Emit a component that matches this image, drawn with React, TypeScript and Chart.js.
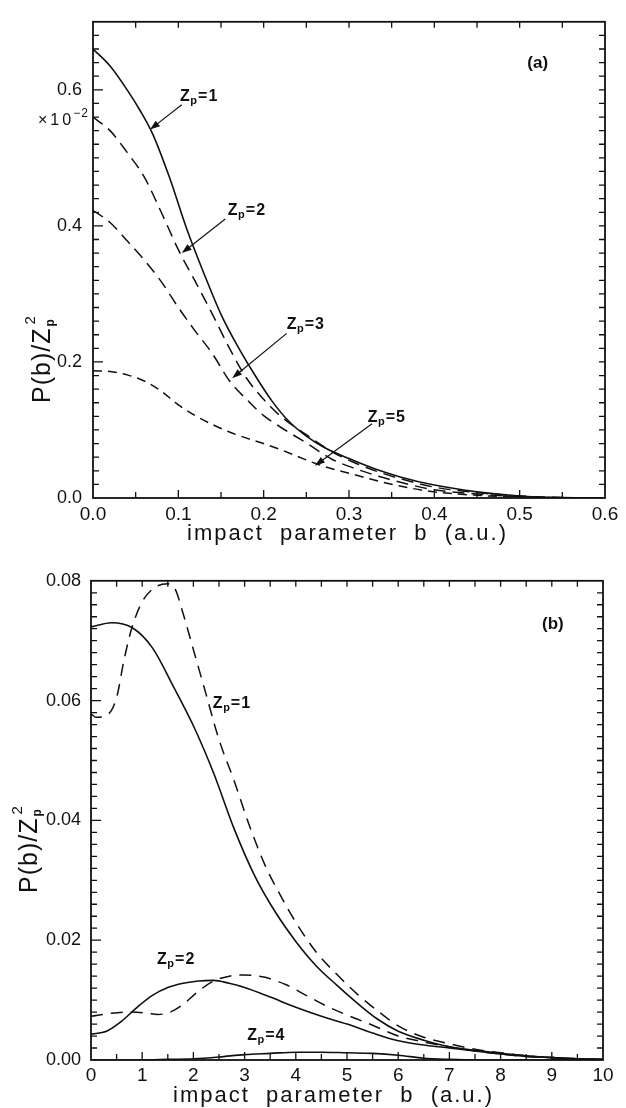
import React, { useEffect, useRef } from 'react';
import { Chart, registerables } from 'chart.js';

Chart.register(...registerables);

const FONT = '"Liberation Sans", Arial, Helvetica, sans-serif';

// ---------------- Panel (a): P(b)/Zp^2 (x10^-2) vs b (0 .. 0.6 a.u.) ----------------
const A_ZP1: number[][] = [[0,0.66],[0.02,0.635],[0.04,0.60],[0.055,0.57],[0.07,0.535],[0.09,0.47],[0.11,0.395],[0.13,0.33],[0.15,0.27],[0.17,0.222],[0.19,0.18],[0.21,0.142],[0.23,0.112],[0.25,0.091],[0.27,0.075],[0.3,0.058],[0.33,0.043],[0.36,0.031],[0.4,0.019],[0.45,0.009],[0.5,0.003],[0.55,0.0006],[0.6,0]];
const A_ZP2: number[][] = [[0,0.56],[0.02,0.54],[0.04,0.508],[0.06,0.472],[0.08,0.42],[0.1,0.365],[0.12,0.318],[0.14,0.27],[0.16,0.22],[0.18,0.176],[0.2,0.145],[0.22,0.12],[0.25,0.093],[0.28,0.068],[0.31,0.05],[0.34,0.036],[0.37,0.025],[0.4,0.016],[0.45,0.008],[0.5,0.003],[0.55,0.0006],[0.6,0]];
const A_ZP3: number[][] = [[0,0.423],[0.02,0.405],[0.04,0.378],[0.06,0.35],[0.08,0.318],[0.1,0.28],[0.12,0.245],[0.14,0.212],[0.16,0.172],[0.18,0.145],[0.2,0.121],[0.22,0.104],[0.25,0.081],[0.28,0.057],[0.31,0.042],[0.34,0.03],[0.37,0.02],[0.4,0.012],[0.45,0.006],[0.5,0.002],[0.55,0.0004],[0.6,0]];
const A_ZP5: number[][] = [[0,0.187],[0.02,0.186],[0.04,0.181],[0.06,0.172],[0.08,0.157],[0.1,0.137],[0.12,0.121],[0.14,0.108],[0.16,0.097],[0.18,0.088],[0.2,0.08],[0.22,0.071],[0.24,0.061],[0.26,0.051],[0.28,0.043],[0.31,0.033],[0.34,0.023],[0.37,0.015],[0.4,0.009],[0.45,0.004],[0.5,0.0012],[0.55,0.0002],[0.6,0]];

// ---------------- Panel (b): P(b)/Zp^2 vs b (0 .. 10 a.u.) ----------------
const B_ZP1_SOLID: number[][] = [[0,0.0723],[0.4,0.073],[0.8,0.0722],[1.2,0.0688],[1.6,0.0625],[2.0,0.0558],[2.4,0.0478],[2.8,0.0385],[3.2,0.0307],[3.6,0.0247],[4.0,0.0198],[4.4,0.0157],[4.8,0.0125],[5.2,0.0095],[5.6,0.0068],[6.0,0.0048],[6.5,0.0033],[7.0,0.0022],[7.5,0.0016],[8.0,0.0011],[8.5,0.0007],[9.0,0.0004],[9.5,0.0002],[10,0.0001]];
const B_ZP1_DASH: number[][] = [[0,0.0578],[0.1,0.0572],[0.3,0.0575],[0.5,0.0605],[0.65,0.067],[0.8,0.0722],[1.0,0.0765],[1.25,0.0789],[1.5,0.0795],[1.65,0.0785],[1.8,0.0745],[2.0,0.0685],[2.2,0.0625],[2.5,0.0535],[2.8,0.0465],[3.1,0.039],[3.4,0.0325],[3.7,0.0275],[4.0,0.023],[4.4,0.018],[4.8,0.0143],[5.2,0.011],[5.6,0.0082],[6.0,0.0057],[6.5,0.0038],[7.0,0.0027],[7.5,0.0018],[8.0,0.0012],[8.5,0.0007],[9.0,0.0004],[9.5,0.0002],[10,0.0001]];
const B_ZP2_SOLID: number[][] = [[0,0.0043],[0.3,0.0048],[0.6,0.0065],[0.9,0.0088],[1.2,0.0108],[1.5,0.0121],[1.8,0.0128],[2.1,0.0132],[2.4,0.0133],[2.7,0.0128],[3.0,0.0121],[3.5,0.0105],[4.0,0.0088],[4.5,0.0073],[5.0,0.006],[5.5,0.0045],[6.0,0.0032],[6.5,0.0025],[7.0,0.002],[7.5,0.0015],[8.0,0.001],[8.5,0.0006],[9.0,0.0004],[9.5,0.0002],[10,0.0001]];
const B_ZP2_DASH: number[][] = [[0,0.0073],[0.4,0.0078],[0.8,0.008],[1.1,0.0078],[1.3,0.0076],[1.55,0.008],[1.8,0.0093],[2.1,0.0115],[2.4,0.0132],[2.7,0.014],[3.0,0.0142],[3.4,0.0138],[3.8,0.0126],[4.2,0.0108],[4.6,0.009],[5.0,0.0075],[5.5,0.0058],[6.0,0.004],[6.5,0.003],[7.0,0.0022],[7.5,0.0015],[8.0,0.001],[8.5,0.0006],[9.0,0.0004],[9.5,0.0002],[10,0.0001]];
const B_ZP4_SOLID: number[][] = [[0,0],[1,0],[1.5,0.0001],[2,0.0002],[2.5,0.0005],[3,0.0009],[3.5,0.0011],[4,0.0013],[4.5,0.0013],[5,0.0012],[5.5,0.0011],[6,0.0008],[6.5,0.0003],[7,0.0001],[7.5,0],[10,0]];

// axis ranges / tick steps
const A_X_RANGE = [0, 0.6]; const A_X_STEP = 0.05; const A_X_MAJOR = 0.1;
const A_Y_RANGE = [0, 0.7]; const A_Y_STEP = 0.02; const A_Y_MAJOR = 0.2;
const B_X_RANGE = [0, 10]; const B_X_STEP = 0.5; const B_X_MAJOR = 1;
const B_Y_RANGE = [0, 0.08]; const B_Y_STEP = 0.002; const B_Y_MAJOR = 0.02;

// annotations (data coordinates): label value, text anchor, arrow start, arrow tip
const A_NOTES = [
  { n: '1', tx: 0.102, ty: 0.583, ax: 0.104, ay: 0.578, bx: 0.0668, by: 0.5416 },
  { n: '2', tx: 0.158, ty: 0.416, ax: 0.155, ay: 0.410, bx: 0.104, by: 0.360 },
  { n: '3', tx: 0.227, ty: 0.249, ax: 0.227, ay: 0.242, bx: 0.163, by: 0.176 },
  { n: '5', tx: 0.322, ty: 0.112, ax: 0.327, ay: 0.109, bx: 0.260, by: 0.0475 },
];
const B_NOTES = [
  { n: '1', tx: 2.38, ty: 0.0588 },
  { n: '2', tx: 1.29, ty: 0.016 },
  { n: '4', tx: 3.05, ty: 0.0033 },
];

const X_TITLE = 'impact parameter b (a.u.)';

function range(a: number, b: number, s: number): number[] {
  const out: number[] = [];
  const n = Math.round((b - a) / s);
  for (let i = 0; i <= n; i++) out.push(+(a + i * s).toFixed(6));
  return out;
}
function isMajor(v: number, m: number) {
  return Math.abs(v / m - Math.round(v / m)) < 1e-6;
}

function drawZp(ctx: CanvasRenderingContext2D, x: number, y: number, n: string) {
  ctx.textAlign = 'left';
  ctx.textBaseline = 'alphabetic';
  ctx.font = `bold 16px ${FONT}`;
  ctx.fillText('Z', x, y);
  let w = ctx.measureText('Z').width;
  ctx.font = `bold 11px ${FONT}`;
  ctx.fillText('p', x + w + 0.5, y + 3);
  w += ctx.measureText('p').width + 1.5;
  ctx.font = `bold 16px ${FONT}`;
  (ctx as any).letterSpacing = '1px';
  ctx.fillText('=' + n, x + w, y);
  (ctx as any).letterSpacing = '0px';
}

function drawArrow(ctx: CanvasRenderingContext2D, x1: number, y1: number, x2: number, y2: number) {
  const ang = Math.atan2(y2 - y1, x2 - x1);
  const L = 10, H = 3.5;
  ctx.lineWidth = 1.2;
  ctx.beginPath();
  ctx.moveTo(x1, y1);
  ctx.lineTo(x2 - Math.cos(ang) * L * 0.8, y2 - Math.sin(ang) * L * 0.8);
  ctx.stroke();
  ctx.beginPath();
  ctx.moveTo(x2, y2);
  ctx.lineTo(x2 - L * Math.cos(ang) + H * Math.sin(ang), y2 - L * Math.sin(ang) - H * Math.cos(ang));
  ctx.lineTo(x2 - L * Math.cos(ang) - H * Math.sin(ang), y2 - L * Math.sin(ang) + H * Math.cos(ang));
  ctx.closePath();
  ctx.fill();
}

function drawYTitle(ctx: CanvasRenderingContext2D, x: number, y: number) {
  ctx.save();
  ctx.translate(x, y);
  ctx.rotate(-Math.PI / 2);
  ctx.textAlign = 'left';
  ctx.textBaseline = 'alphabetic';
  ctx.font = `25px ${FONT}`;
  (ctx as any).letterSpacing = '1px';
  ctx.fillText('P(b)/Z', 0, 0);
  const w = ctx.measureText('P(b)/Z').width;
  (ctx as any).letterSpacing = '0px';
  ctx.font = `bold 12px ${FONT}`;
  ctx.fillText('p', w + 1, 4);
  ctx.font = `15px ${FONT}`;
  ctx.fillText('2', w + 3, -15);
  ctx.restore();
}

function drawXTitle(ctx: CanvasRenderingContext2D, x: number, y: number) {
  ctx.save();
  ctx.textAlign = 'left';
  ctx.textBaseline = 'alphabetic';
  ctx.font = `22px ${FONT}`;
  (ctx as any).letterSpacing = '2px';
  (ctx as any).wordSpacing = '8px';
  ctx.fillText(X_TITLE, x, y);
  ctx.restore();
}

type Series = { label: string; points: number[][]; dash: number[]; width: number };
type Spec = {
  id: string;
  series: Series[];
  xRange: number[]; xStep: number; xMajor: number; xDec: number;
  yRange: number[]; yStep: number; yMajor: number; yDec: number;
  padTop: number; padRight: number; yAxisWidth: number; xAxisHeight: number;
  xLabelPad: number; yLabelPad: number;
  decor: (ctx: CanvasRenderingContext2D, chart: any) => void;
};

function decorPlugin(s: Spec) {
  return {
    id: 'decor_' + s.id,
    afterDraw(chart: any) {
      const ctx: CanvasRenderingContext2D = chart.ctx;
      const { left, right, top, bottom } = chart.chartArea;
      const xs = chart.scales.x;
      const ys = chart.scales.y;
      ctx.save();
      ctx.strokeStyle = '#111';
      ctx.fillStyle = '#111';
      ctx.lineWidth = 1.8;
      ctx.strokeRect(left, top, right - left, bottom - top);
      ctx.lineWidth = 1.3;
      ctx.beginPath();
      for (const t of xs.ticks) {
        const v = t.value;
        if (v <= s.xRange[0] + 1e-9 || v >= s.xRange[1] - 1e-9) continue;
        const px = xs.getPixelForValue(v);
        const mj = isMajor(v, s.xMajor);
        ctx.moveTo(px, bottom); ctx.lineTo(px, bottom - (mj ? 8 : 6));
        ctx.moveTo(px, top); ctx.lineTo(px, top + 6);
      }
      for (const t of ys.ticks) {
        const v = t.value;
        if (v <= s.yRange[0] + 1e-9 || v >= s.yRange[1] - 1e-9) continue;
        const py = ys.getPixelForValue(v);
        const mj = isMajor(v, s.yMajor);
        ctx.moveTo(left, py); ctx.lineTo(left + (mj ? 10 : 6), py);
        ctx.moveTo(right, py); ctx.lineTo(right - 6, py);
      }
      ctx.stroke();
      s.decor(ctx, chart);
      ctx.restore();
    },
  };
}

function makeConfig(s: Spec): any {
  const xTicks = range(s.xRange[0], s.xRange[1], s.xStep);
  const yTicks = range(s.yRange[0], s.yRange[1], s.yStep);
  return {
    type: 'line',
    data: {
      datasets: s.series.map((se) => ({
        label: se.label,
        data: se.points.map(([x, y]) => ({ x, y })),
        borderColor: '#111',
        borderWidth: se.width,
        borderDash: se.dash,
        pointRadius: 0,
        fill: false,
        cubicInterpolationMode: 'monotone',
      })),
    },
    options: {
      responsive: false,
      animation: false,
      devicePixelRatio: 1,
      layout: { padding: { left: 0, top: s.padTop, right: s.padRight, bottom: 0 } },
      plugins: { legend: { display: false }, tooltip: { enabled: false }, title: { display: false } },
      scales: {
        x: {
          type: 'linear',
          min: s.xRange[0],
          max: s.xRange[1],
          grid: { display: false, drawTicks: false },
          border: { display: false },
          afterBuildTicks: (sc: any) => { sc.ticks = xTicks.map((v) => ({ value: v })); },
          afterFit: (sc: any) => { sc.height = s.xAxisHeight; },
          ticks: {
            autoSkip: false, maxRotation: 0, minRotation: 0, padding: s.xLabelPad, color: '#111',
            font: { family: FONT, size: 19 },
            callback: (v: number) => (isMajor(v, s.xMajor) ? Number(v).toFixed(s.xDec) : ''),
          },
        },
        y: {
          type: 'linear',
          min: s.yRange[0],
          max: s.yRange[1],
          grid: { display: false, drawTicks: false },
          border: { display: false },
          afterBuildTicks: (sc: any) => { sc.ticks = yTicks.map((v) => ({ value: v })); },
          afterFit: (sc: any) => { sc.width = s.yAxisWidth; },
          ticks: {
            autoSkip: false, padding: s.yLabelPad, color: '#111',
            font: { family: FONT, size: 18 },
            callback: (v: number) => (isMajor(v, s.yMajor) ? Number(v).toFixed(s.yDec) : ''),
          },
        },
      },
    },
    plugins: [decorPlugin(s)],
  };
}

const SPEC_A: Spec = {
  id: 'a',
  series: [
    { label: 'Zp=1', points: A_ZP1, dash: [], width: 1.6 },
    { label: 'Zp=2', points: A_ZP2, dash: [12, 7], width: 1.5 },
    { label: 'Zp=3', points: A_ZP3, dash: [12, 7], width: 1.5 },
    { label: 'Zp=5', points: A_ZP5, dash: [9, 6], width: 1.5 },
  ],
  xRange: A_X_RANGE, xStep: A_X_STEP, xMajor: A_X_MAJOR, xDec: 1,
  yRange: A_Y_RANGE, yStep: A_Y_STEP, yMajor: A_Y_MAJOR, yDec: 1,
  padTop: 12, padRight: 21, yAxisWidth: 93, xAxisHeight: 62,
  xLabelPad: 5, yLabelPad: 11,
  decor: (ctx, chart) => {
    const xs = chart.scales.x, ys = chart.scales.y;
    for (const a of A_NOTES) {
      drawZp(ctx, xs.getPixelForValue(a.tx), ys.getPixelForValue(a.ty), a.n);
      drawArrow(ctx, xs.getPixelForValue(a.ax), ys.getPixelForValue(a.ay), xs.getPixelForValue(a.bx), ys.getPixelForValue(a.by));
    }
    ctx.font = `bold 17px ${FONT}`;
    ctx.textAlign = 'left';
    ctx.fillText('(a)', xs.getPixelForValue(0.509), ys.getPixelForValue(0.632));
    // x10^-2 multiplier
    const bx = 38, by = ys.getPixelForValue(0.549);
    ctx.font = `16px ${FONT}`;
    (ctx as any).letterSpacing = '3px';
    ctx.fillText('×10', bx, by);
    const w = ctx.measureText('×10').width;
    ctx.font = `12px ${FONT}`;
    (ctx as any).letterSpacing = '1px';
    ctx.fillText('−2', bx + w - 1, by - 8);
    (ctx as any).letterSpacing = '0px';
    drawYTitle(ctx, 50, 403);
    drawXTitle(ctx, 187, 540);
  },
};

const SPEC_B: Spec = {
  id: 'b',
  series: [
    { label: 'Zp=1 solid', points: B_ZP1_SOLID, dash: [], width: 1.6 },
    { label: 'Zp=1 dashed', points: B_ZP1_DASH, dash: [12, 8], width: 1.5 },
    { label: 'Zp=2 solid', points: B_ZP2_SOLID, dash: [], width: 1.6 },
    { label: 'Zp=2 dashed', points: B_ZP2_DASH, dash: [12, 8], width: 1.5 },
    { label: 'Zp=4 solid', points: B_ZP4_SOLID, dash: [], width: 1.6 },
  ],
  xRange: B_X_RANGE, xStep: B_X_STEP, xMajor: B_X_MAJOR, xDec: 0,
  yRange: B_Y_RANGE, yStep: B_Y_STEP, yMajor: B_Y_MAJOR, yDec: 2,
  padTop: 20, padRight: 23, yAxisWidth: 91, xAxisHeight: 48,
  xLabelPad: 4, yLabelPad: 10,
  decor: (ctx, chart) => {
    const xs = chart.scales.x, ys = chart.scales.y;
    for (const a of B_NOTES) {
      drawZp(ctx, xs.getPixelForValue(a.tx), ys.getPixelForValue(a.ty), a.n);
    }
    ctx.font = `bold 17px ${FONT}`;
    ctx.textAlign = 'left';
    ctx.fillText('(b)', xs.getPixelForValue(8.81), ys.getPixelForValue(0.072));
    drawYTitle(ctx, 37, 333);
    drawXTitle(ctx, 173, 542);
  },
};

function Panel({ spec, top, height }: { spec: Spec; top: number; height: number }) {
  const ref = useRef<HTMLCanvasElement>(null);
  useEffect(() => {
    if (!ref.current) return;
    const chart = new Chart(ref.current, makeConfig(spec));
    return () => chart.destroy();
  }, [spec]);
  return (
    <canvas
      ref={ref}
      width={626}
      height={height}
      style={{ position: 'absolute', left: 0, top, width: 626, height, display: 'block' }}
    />
  );
}

export default function App() {
  return (
    <div style={{ position: 'absolute', left: 0, top: 0, width: 626, height: 1108, background: '#fff', overflow: 'hidden' }}>
      <Panel spec={SPEC_A} top={0} height={560} />
      <Panel spec={SPEC_B} top={560} height={548} />
    </div>
  );
}
